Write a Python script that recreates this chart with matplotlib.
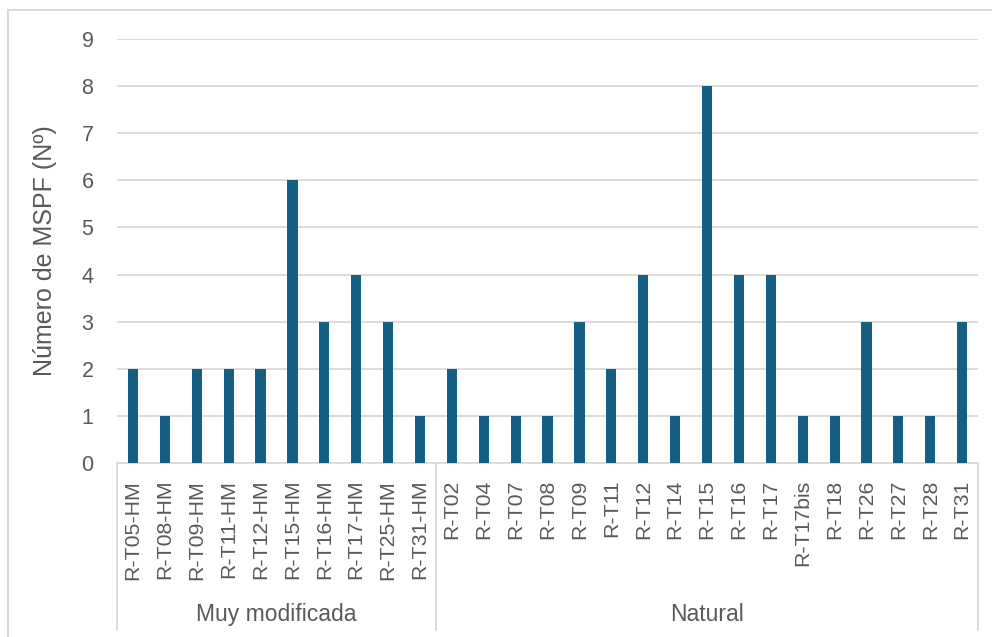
import matplotlib.pyplot as plt
from matplotlib.transforms import blended_transform_factory
from matplotlib.lines import Line2D

# datos por grupo
grupos = ["Muy modificada", "Natural"]
estaciones_hm = ["R-T05-HM", "R-T08-HM", "R-T09-HM", "R-T11-HM", "R-T12-HM",
                 "R-T15-HM", "R-T16-HM", "R-T17-HM", "R-T25-HM", "R-T31-HM"]
mspf_hm = [2, 1, 2, 2, 2, 6, 3, 4, 3, 1]
estaciones_nat = ["R-T02", "R-T04", "R-T07", "R-T08", "R-T09", "R-T11", "R-T12",
                  "R-T14", "R-T15", "R-T16", "R-T17", "R-T17bis", "R-T18",
                  "R-T26", "R-T27", "R-T28", "R-T31"]
mspf_nat = [2, 1, 1, 1, 3, 2, 4, 1, 8, 4, 4, 1, 1, 3, 1, 1, 3]

BAR = "#156082"
GRID = "#D9D9D9"
TXT = "#595959"

plt.rcParams["font.family"] = ["Liberation Sans", "DejaVu Sans"]

labels = estaciones_hm + estaciones_nat
values = mspf_hm + mspf_nat
x = list(range(len(labels)))

fig = plt.figure(figsize=(9.92, 6.37), dpi=100)
ax = fig.add_axes([0.118, 0.273, 0.868, 0.666])

ax.bar(x, values, width=0.32, color=BAR, zorder=3)

ax.set_xlim(-0.5, len(labels) - 0.5)
ax.set_ylim(0, 9)
ax.set_yticks(range(10))
ax.grid(axis="y", color=GRID, lw=1.3, zorder=0)
for s in ["top", "right", "left"]:
    ax.spines[s].set_visible(False)
ax.spines["bottom"].set_color(GRID)
ax.spines["bottom"].set_linewidth(1.3)

ax.set_xticks(x)
ax.set_xticklabels(labels, rotation=90, fontsize=15.3, color=TXT)
ax.tick_params(axis="x", length=0, pad=12)
ax.tick_params(axis="y", length=0, pad=17, labelsize=15.5, labelcolor=TXT)

ax.set_ylabel("Número de MSPF (Nº)", fontsize=18, color=TXT)
ax.yaxis.set_label_coords(-0.0697, 0.5)

# separadores de grupo y etiquetas
trans = blended_transform_factory(ax.transData, ax.transAxes)
n1 = len(estaciones_hm)
for xs in [-0.5, n1 - 0.5, len(labels) - 0.5]:
    ax.add_line(Line2D([xs, xs], [0, -0.394], transform=trans, color=GRID,
                       lw=1.3, clip_on=False))
centros = [(-0.5 + n1 - 0.5) / 2, (n1 - 0.5 + len(labels) - 0.5) / 2]
for g, cx in zip(grupos, centros):
    ax.text(cx, -0.358, g, transform=trans, ha="center", va="center",
            fontsize=16.5, color=TXT)

# borde del gráfico
fig.add_artist(Line2D([0.008, 1.0], [0.984, 0.984], transform=fig.transFigure,
                      color=GRID, lw=1.5))
fig.add_artist(Line2D([0.008, 0.008], [0.0, 0.984], transform=fig.transFigure,
                      color=GRID, lw=1.5))

fig.savefig("out.png", dpi=100)
